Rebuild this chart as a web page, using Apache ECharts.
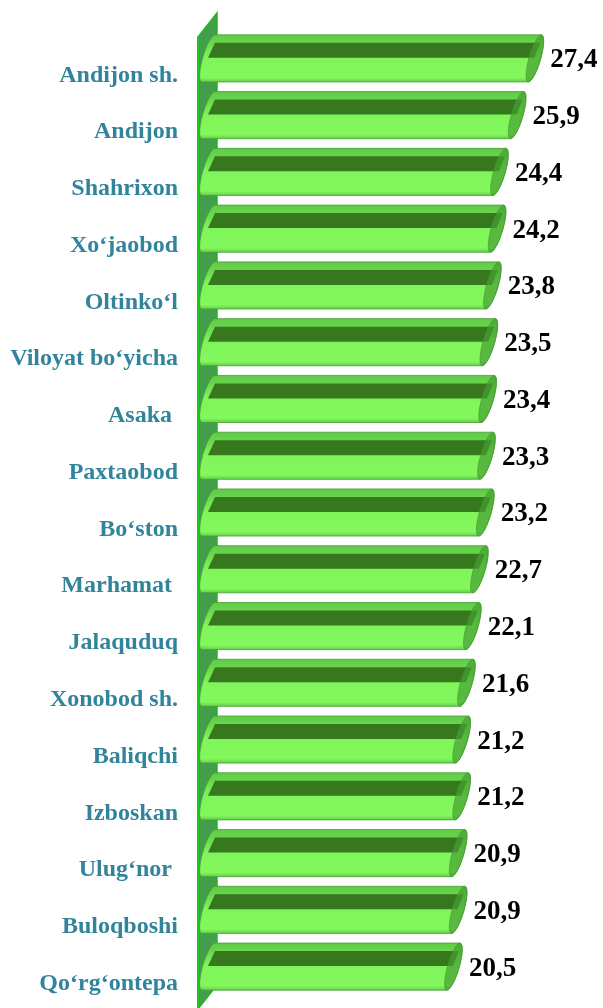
<!DOCTYPE html>
<html lang="uz" style="height: 100%">
<head>
  <meta charset="utf-8" />
  <title>Andijon viloyati</title>
</head>
<body style="height: 100%; margin: 0; background: #fff">
  <div id="container" style="width: 603px; height: 1008px"></div>

  <script type="text/javascript" src="https://fastly.jsdelivr.net/npm/echarts@6.0.0/dist/echarts.min.js"></script>
  <script type="text/javascript">
    // districts, top to bottom
    var districts = [
      'Andijon sh.', 'Andijon', 'Shahrixon', 'Xo‘jaobod', 'Oltinko‘l',
      'Viloyat bo‘yicha', 'Asaka ', 'Paxtaobod', 'Bo‘ston', 'Marhamat ',
      'Jalaquduq', 'Xonobod sh.', 'Baliqchi', 'Izboskan', 'Ulug‘nor ',
      'Buloqboshi', 'Qo‘rg‘ontepa'
    ];
    var values = [
      27.4, 25.9, 24.4, 24.2, 23.8,
      23.5, 23.4, 23.3, 23.2, 22.7,
      22.1, 21.6, 21.2, 21.2, 20.9,
      20.9, 20.5
    ];

    var dom = document.getElementById('container');
    var myChart = echarts.init(dom, null, { renderer: 'canvas' });

    // points of a slanted (sheared) ellipse used for the cylinder ends
    function ellipsePts(cx, cy, hw, hh, r, t0, t1, n) {
      var pts = [];
      for (var i = 0; i <= n; i++) {
        var t = t0 + (t1 - t0) * i / n;
        pts.push([cx + hw * Math.cos(t) + r * Math.sin(t), cy - hh * Math.cos(t)]);
      }
      return pts;
    }

    function fmt(v) {
      return v.toFixed(1).replace('.', ',');
    }

    function renderBar(params, api) {
      var cat = api.value(0);
      var val = api.value(1);
      var p0 = api.coord([0, cat]);
      var pe = api.coord([val, cat]);
      var band = api.size([0, 1])[1];
      var h = band * 0.83;
      var cy = p0[1];
      var top = cy - h / 2;
      var d = 13, r = 6;
      var x0 = p0[0];
      var xe = pe[0];
      var xL = x0 - 3 - d;

      var left = ellipsePts(xL + d / 2, cy, d / 2, h / 2, r, Math.PI, 2 * Math.PI, 16);
      var right = ellipsePts(xe - d / 2, cy, d / 2, h / 2, r, 0, Math.PI, 16);
      var body = left.concat(right);
      var cap = ellipsePts(xe - d / 2, cy, d / 2, h / 2, r, 0, 2 * Math.PI, 32);

      var children = [
        {
          type: 'polygon',
          shape: { points: body },
          style: {
            fill: new echarts.graphic.LinearGradient(0, 0, 0, 1, [
              { offset: 0, color: '#5fc947' },
              { offset: 0.17, color: '#68d54c' },
              { offset: 0.5, color: '#80f55b' },
              { offset: 0.9, color: '#82f85d' },
              { offset: 1, color: '#62c84a' }
            ]),
            stroke: 'rgba(70,160,50,0.8)',
            lineWidth: 1
          }
        },
        {
          type: 'polygon',
          shape: {
            points: [
              [x0 - 3, top + 8], [xe - 1, top + 8],
              [xe - 7, top + 23], [x0 - 10, top + 23]
            ]
          },
          style: { fill: '#37781e' }
        },
        {
          type: 'polygon',
          shape: { points: cap },
          style: { fill: 'rgba(70,160,50,0.7)', stroke: 'rgba(70,150,50,0.6)', lineWidth: 1 }
        },
        {
          type: 'text',
          x: xe + 9,
          y: cy + 2,
          style: {
            text: fmt(val),
            fill: '#000',
            font: 'bold 27px "Liberation Serif", serif',
            textAlign: 'left',
            textVerticalAlign: 'middle'
          }
        }
      ];

      if (params.dataIndex === 0) {
        var cs = params.coordSys;
        var bx = cs.x - 1, fx = cs.x - 20;
        var ty = cs.y - 17, byy = cs.y + cs.height - 10;
        children.unshift({
          type: 'polygon',
          z2: -10,
          shape: { points: [[fx, ty + 24], [bx, ty], [bx, byy], [fx, byy + 24]] },
          style: { fill: 'rgba(40,145,50,0.88)', stroke: '#26b526', lineWidth: 1.5 }
        });
        children.unshift({
          type: 'line',
          z2: -9,
          shape: { x1: fx, y1: ty + 24, x2: fx, y2: byy + 24 },
          style: { stroke: '#1fc51f', lineWidth: 2 }
        });
      }

      return { type: 'group', children: children };
    }

    var option = {
      animation: false,
      grid: { left: 218, top: 30, right: 31, bottom: 13 },
      xAxis: {
        type: 'value',
        min: 0,
        max: 30,
        show: false
      },
      yAxis: {
        type: 'category',
        inverse: true,
        data: districts,
        axisLine: { show: false },
        axisTick: { show: false },
        axisLabel: {
          margin: 40,
          color: '#31849b',
          fontWeight: 'bold',
          fontSize: 24,
          fontFamily: '"Liberation Serif", serif',
          verticalAlign: 'top',
          lineHeight: 34
        }
      },
      series: [
        {
          type: 'custom',
          renderItem: renderBar,
          encode: { x: 1, y: 0 },
          data: districts.map(function (name, i) { return [i, values[i]]; })
        }
      ]
    };

    myChart.setOption(option);
    window.addEventListener('resize', myChart.resize);
  </script>
</body>
</html>
